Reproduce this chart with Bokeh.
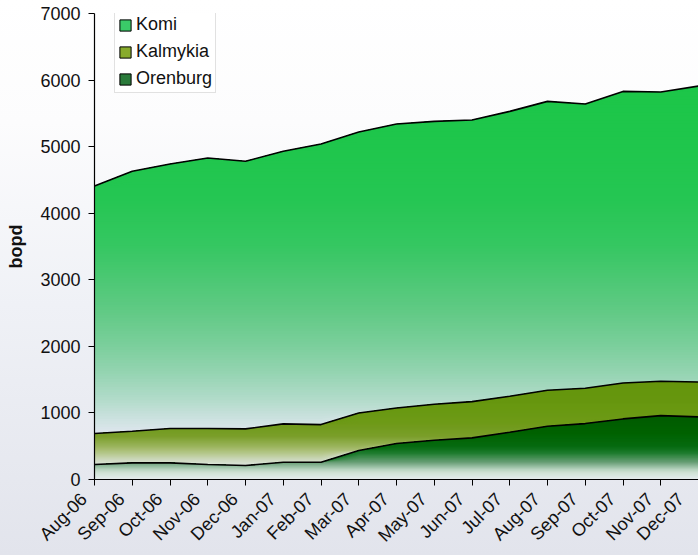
import numpy as np
from bokeh.plotting import figure
from bokeh.models import Range1d, FixedTicker, Legend, LegendItem
from bokeh.embed import file_html
from bokeh.resources import INLINE

# ---------------- data ----------------
months = ["Aug-06", "Sep-06", "Oct-06", "Nov-06", "Dec-06", "Jan-07", "Feb-07",
          "Mar-07", "Apr-07", "May-07", "Jun-07", "Jul-07", "Aug-07", "Sep-07",
          "Oct-07", "Nov-07", "Dec-07"]
orenburg = [225, 250, 250, 225, 210, 260, 260, 435, 540, 590, 625, 710, 800, 840, 910, 960, 940]
kalmykia = [465, 475, 515, 540, 550, 575, 565, 565, 535, 540, 545, 540, 540, 530, 540, 515, 525]
komi = [3720, 3905, 3975, 4065, 4020, 4095, 4215, 4220, 4265, 4250, 4230, 4280, 4340, 4270, 4380, 4345, 4445]
series_names = ["Komi", "Kalmykia", "Orenburg"]
y_ticks = [0, 1000, 2000, 3000, 4000, 5000, 6000, 7000]

# gradient stops (value, colour) for each series fill
komi_stops = [(690, "#dfe6ee"), (900, "#cde2e0"), (1200, "#b2dbca"), (1600, "#95d4b2"),
              (2000, "#7ccf9c"), (2500, "#62ca86"), (3000, "#4cc874"), (3500, "#36c762"),
              (4200, "#25c653"), (5000, "#1fc64c"), (6000, "#1cc648")]
kalmykia_stops = [(200, "#dfe6e2"), (300, "#ccd8bc"), (400, "#b4c688"), (500, "#9ab45c"),
                  (650, "#7a9e2a"), (850, "#6e9a18"), (1100, "#689810"), (1500, "#64940c")]
orenburg_stops = [(0, "#e6ecee"), (100, "#d0e2d6"), (150, "#b8d4c0"), (255, "#6aa078"),
                  (405, "#1a7a2a"), (500, "#066a10"), (700, "#006200"), (1000, "#005a00")]
legend_colors = ["#3acb68", "#88ab2c", "#2a7a3a"]


def hex2rgb(h):
    h = h.lstrip("#")
    return np.array([int(h[i:i + 2], 16) for i in (0, 2, 4)], dtype=float)


def color_at(v, stops):
    vals = [s[0] for s in stops]
    cols = [hex2rgb(s[1]) for s in stops]
    c = cols[-1]
    if v <= vals[0]:
        c = cols[0]
    elif v < vals[-1]:
        for i in range(len(vals) - 1):
            if vals[i] <= v <= vals[i + 1]:
                t = (v - vals[i]) / (vals[i + 1] - vals[i])
                c = cols[i] * (1 - t) + cols[i + 1] * t
                break
    return "#%02x%02x%02x" % tuple(int(round(q)) for q in c)


x = np.arange(len(months))
o = np.array(orenburg, dtype=float)
k = np.array(kalmykia, dtype=float)
m = np.array(komi, dtype=float)
zero = np.zeros_like(o)
top_o = o
top_k = o + k
top_m = o + k + m

p = figure(width=698, height=555, output_backend="svg", toolbar_location=None,
           x_range=Range1d(0, len(months) - 1), y_range=Range1d(0, 7000),
           min_border_left=94, min_border_right=0, min_border_top=13, min_border_bottom=75)
p.border_fill_color = None
p.background_fill_color = None
p.outline_line_color = None
p.styles = {"background": "linear-gradient(180deg, #ffffff 0%, #fcfcfd 22%, #eff1f6 55%, #e2e4ec 100%)"}
p.xgrid.visible = False
p.ygrid.visible = False


def gradient_area(lower, upper, stops, step):
    lo = float(np.min(lower))
    hi_full = float(np.max(upper))
    solid_from = stops[-1][0]
    p.varea(x=x, y1=lower, y2=upper, fill_color=color_at(hi_full, stops))
    e = min(solid_from, hi_full)
    edges = []
    while e > lo:
        edges.append(e)
        e -= step
    for e in edges:
        y2 = np.maximum(lower, np.minimum(upper, e))
        p.varea(x=x, y1=lower, y2=y2, fill_color=color_at(e - step / 2.0, stops))


gradient_area(top_k, top_m, komi_stops, 40)
gradient_area(top_o, top_k, kalmykia_stops, 15)
gradient_area(zero, top_o, orenburg_stops, 12)

for top in (top_o, top_k, top_m):
    p.line(x, top, line_color="black", line_width=1.6)

# legend proxies (placed outside visible ranges)
items = []
for name, col in zip(series_names, legend_colors):
    r = p.quad(left=[-5], right=[-4], bottom=[-6], top=[-5], fill_color=col,
               line_color="black", line_width=1)
    items.append(LegendItem(label=name, renderers=[r]))
legend = Legend(items=items, location=(20, 386), orientation="vertical",
                glyph_width=14, glyph_height=14, label_height=19, spacing=6, padding=3,
                label_standoff=4, margin=0,
                label_text_font="Liberation Sans", label_text_font_size="18px",
                label_text_color="#111111",
                border_line_color="#c4c4c4", border_line_width=1,
                background_fill_color="white", background_fill_alpha=1.0)
p.add_layout(legend, "center")

# axes
xax = p.xaxis[0]
yax = p.yaxis[0]
xax.ticker = FixedTicker(ticks=list(range(len(months))))
# trailing no-break spaces push each rotated label a little away from its tick
xax.major_label_overrides = {i: lab + "\u00a0\u00a0\u00a0" for i, lab in enumerate(months)}
xax.major_label_orientation = np.pi / 4
xax.major_label_text_font = "Liberation Sans"
xax.major_label_text_font_size = "18px"
xax.major_label_standoff = 0
yax.ticker = FixedTicker(ticks=y_ticks)
yax.major_label_text_font = "Liberation Sans"
yax.major_label_text_font_size = "18px"
yax.major_label_standoff = 8
yax.axis_label = "bopd"
yax.axis_label_text_font = "Liberation Sans"
yax.axis_label_text_font_style = "bold"
yax.axis_label_text_font_size = "18px"
yax.axis_label_standoff = 11
for ax in (xax, yax):
    ax.axis_line_color = "black"
    ax.axis_line_width = 1.2
    ax.major_tick_line_color = "black"
    ax.major_tick_out = 6
    ax.major_tick_in = 0
    ax.minor_tick_line_color = None
    ax.major_label_text_color = "#111111"
    ax.axis_label_text_color = "#111111"

open("out.html", "w").write(file_html(p, INLINE))
